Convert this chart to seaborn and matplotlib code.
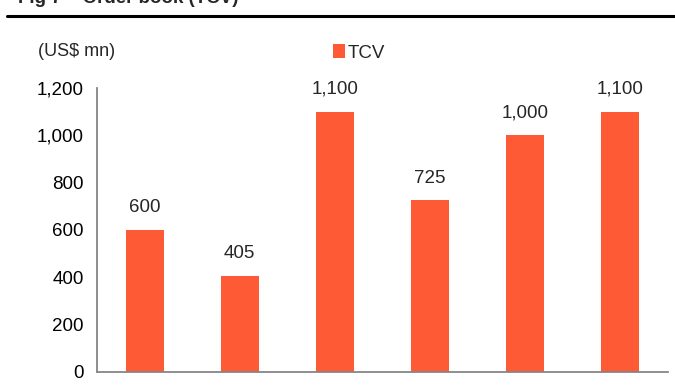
import numpy as np
import pandas as pd
import matplotlib
matplotlib.use("Agg")
import matplotlib.pyplot as plt
import seaborn as sns
from matplotlib.patches import Patch

# Data (x tick labels are cropped out of the reference)
categories = ["P1", "P2", "P3", "P4", "P5", "P6"]
tcv_values = [600, 405, 1100, 725, 1000, 1100]
y_ticks = [0, 200, 400, 600, 800, 1000, 1200]
series_name = "TCV"
unit_label = "(US$ mn)"
title_text = "Fig 7 \u2013 Order book (TCV)"

BAR_COLOR = "#FF5A36"
AXIS_COLOR = "#868686"
FS = 13.5

sns.set_style("white")
plt.rcParams["font.family"] = ["Liberation Sans", "DejaVu Sans"]

df = pd.DataFrame({"category": categories, "value": tcv_values})

fig = plt.figure(figsize=(6.75, 3.85), dpi=100)
ax = fig.add_axes([97 / 675, 1 - 372 / 385, (668 - 97) / 675, (372 - 88) / 385])

sns.barplot(data=df, x="category", y="value", color=BAR_COLOR, width=0.4,
            saturation=1, ax=ax, edgecolor="none")

ax.set_xlim(-0.5, len(categories) - 0.5)
ax.set_ylim(0, 1200)
ax.set_yticks(y_ticks)
ax.set_yticklabels([f"{v:,}" for v in y_ticks], fontsize=FS, color="black")
ax.set_xticks(np.arange(-0.5, len(categories), 1))
ax.set_xticklabels([])
ax.set_xlabel("")
ax.set_ylabel("")

for s in ["top", "right"]:
    ax.spines[s].set_visible(False)
for s in ["left", "bottom"]:
    ax.spines[s].set_color(AXIS_COLOR)
    ax.spines[s].set_linewidth(1.3)
ax.tick_params(axis="both", direction="out", length=4.5, width=1.2, color=AXIS_COLOR)
ax.tick_params(axis="y", pad=5)

for cont in ax.containers:
    ax.bar_label(cont, labels=[f"{v:,}" for v in tcv_values], padding=10, fontsize=FS)

# unit label
fig.text(38 / 675, 1 - 51 / 385, unit_label, fontsize=13, va="center", ha="left")

# legend
handle = Patch(facecolor=BAR_COLOR, edgecolor="none", label=series_name)
fig.legend(handles=[handle], loc="center left", bbox_to_anchor=(320 / 675, 1 - 53 / 385),
           frameon=False, fontsize=FS, handlelength=0.65, handleheight=0.7,
           handletextpad=0.15, borderpad=0.2)

# clipped title and rule
fig.text(18 / 675, 1 - 3 / 385, title_text, fontsize=13.5, fontweight="bold",
         va="baseline", ha="left")
fig.add_artist(plt.Line2D([7 / 675, 1], [1 - 15.5 / 385, 1 - 15.5 / 385],
                          color="black", linewidth=2.2, transform=fig.transFigure))

fig.savefig("out.png", dpi=100)
